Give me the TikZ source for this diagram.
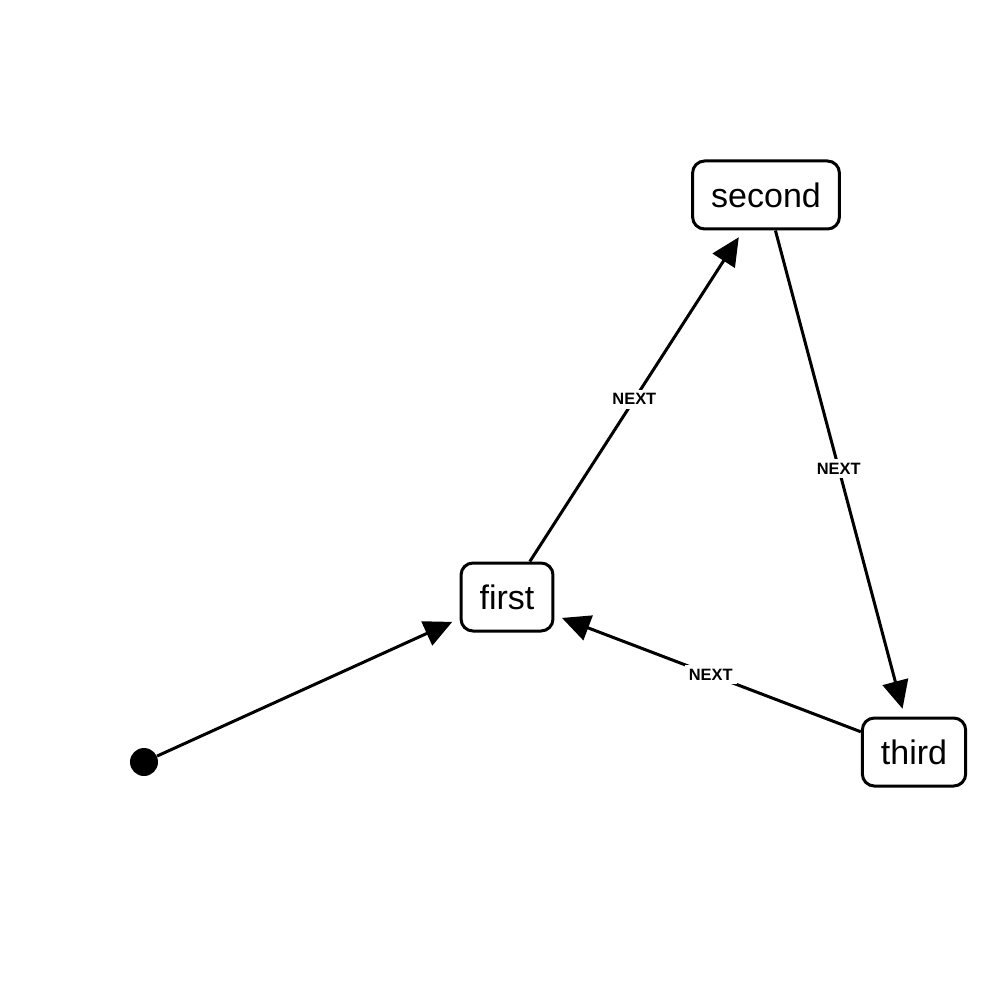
\documentclass[tikz,border=0pt]{standalone}
\usepackage{fontspec}
\setmainfont{Liberation Sans}
\usepackage{xcolor}
\usetikzlibrary{positioning, arrows.meta}

\begin{document}
\begin{tikzpicture}[x=0.5pt, y=-0.5pt,
    state/.style={draw, line width=1.5pt, rounded corners=6pt, fill=white,
                  minimum height=34pt, inner xsep=9.3pt,
                  font=\fontsize{17}{20}\selectfont},
    rel/.style={line width=1.5pt, -{Triangle[length=14pt, width=13pt]},
                shorten >=4pt},
    lbl/.style={fill=white, inner sep=2pt, pos=0.49,
                font=\fontsize{8.2}{10}\selectfont\bfseries}]
  \path[use as bounding box, fill=white] (0,0) rectangle (1000,1000);

  \node[state] (second) at (766,195) {second};
  \node[state] (first)  at (507,597) {first};
  \node[state] (third)  at (914,752) {third};
  \node[circle, fill=black, inner sep=0pt, minimum size=14pt] (start) at (144,762) {};

  \draw[rel] (start) -- (first);
  \draw[rel] (first) -- node[lbl] {NEXT} (second);
  \draw[rel] (second) -- node[lbl] {NEXT} (third);
  \draw[rel] (third) -- node[lbl] {NEXT} (first);
\end{tikzpicture}
\end{document}
